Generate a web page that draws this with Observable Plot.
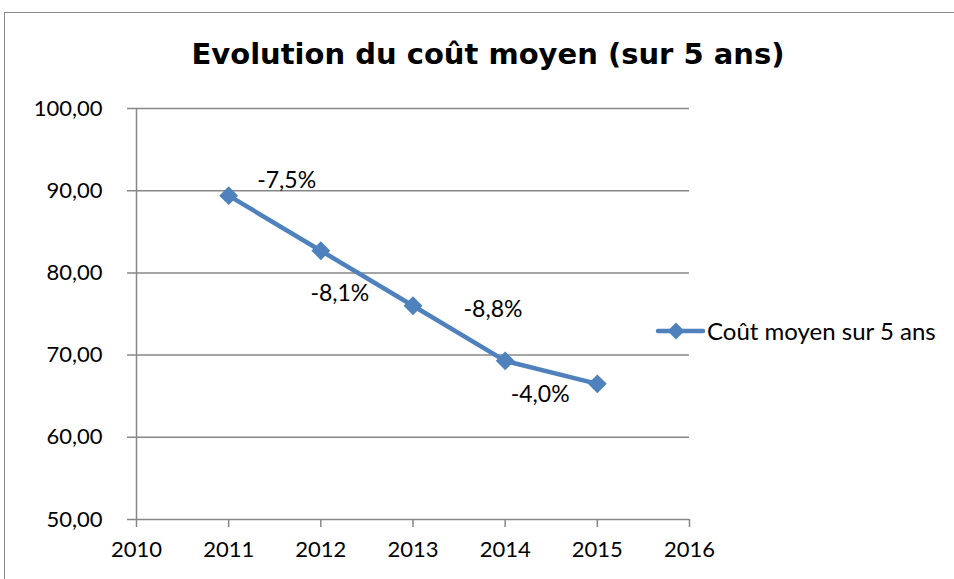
<!DOCTYPE html>
<html><head><meta charset="utf-8">
<script src="https://cdn.jsdelivr.net/npm/d3@7"></script>
<script src="https://cdn.jsdelivr.net/npm/@observablehq/plot@0.6"></script>
<style>
body{margin:0;background:#fff;}
#wrap{position:relative;width:954px;height:579px;overflow:hidden;background:#fff;}
#frame{position:absolute;left:4px;top:12px;width:1000px;height:600px;border-left:1.5px solid #8a8a8a;border-top:1.5px solid #8a8a8a;}
#title{position:absolute;left:0;width:976px;top:37px;text-align:center;font-family:"DejaVu Sans";font-weight:bold;font-size:29px;color:#000;}
#chart{position:absolute;left:0;top:0;}
#legend{position:absolute;left:655px;top:316px;display:flex;align-items:center;font-family:Lato;font-size:24px;color:#000;}
</style></head>
<body>
<div id="wrap">
<div id="frame"></div>
<div id="title">Evolution du coût moyen (sur 5 ans)</div>
<div id="chart"></div>
<div id="legend"><svg width="50" height="24"><line x1="3" y1="12" x2="48" y2="12" stroke="#4F81BD" stroke-width="4.5" stroke-linecap="round"/><path d="M21 3.5 L29.5 12 L21 20.5 L12.5 12 Z" fill="#4F81BD"/></svg><span style="margin-left:2px">Coût moyen sur 5 ans</span></div>
</div>
<script>
const years = [2011, 2012, 2013, 2014, 2015];
const costs = [89.4, 82.7, 76.0, 69.3, 66.5];
const changeLabels = ["-7,5%", "-8,1%", "-8,8%", "-4,0%"];
const xTicks = [2010, 2011, 2012, 2013, 2014, 2015, 2016];
const yTicks = [50, 60, 70, 80, 90, 100];

const data = years.map((y, i) => ({year: y, cost: costs[i]}));
const labelOffsets = [[58, -15], [19, 43], [80, 4], [35, 34]];
const labels = changeLabels.map((t, i) => ({year: years[i], cost: costs[i], text: t, dx: labelOffsets[i][0], dy: labelOffsets[i][1]}));

const fmt = d => d3.format(".2f")(d).replace(".", ",");
const color = "#4F81BD";
const grid = "#878787";

const plot = Plot.plot({
  width: 954, height: 579,
  marginLeft: 136, marginRight: 265, marginTop: 108, marginBottom: 60,
  style: {fontFamily: "Lato", fontSize: "22px", color: "#000", background: "transparent"},
  x: {domain: [2010, 2016], label: null},
  y: {domain: [50, 100], label: null},
  marks: [
    Plot.ruleY(yTicks.filter(d => d > 50), {x1: 2010, x2: 2016, stroke: grid, strokeWidth: 1.5, insetLeft: -9}),
    Plot.ruleX([2010], {y1: 50, y2: 100, stroke: grid, strokeWidth: 1.5}),
    Plot.ruleY([50], {x1: 2010, x2: 2016, stroke: grid, strokeWidth: 1.5, insetLeft: -9}),
    Plot.axisY({ticks: yTicks, tickFormat: fmt, tickSize: 0, tickPadding: 34, fontSize: 22, fill: "#000", label: null}),
    Plot.axisX({ticks: xTicks, tickFormat: d => String(d), tickSize: 8, tickPadding: 14, stroke: grid, strokeWidth: 1.5, fontSize: 22, fill: "#000", strokeOpacity: 1, label: null}),
    Plot.line(data, {x: "year", y: "cost", stroke: color, strokeWidth: 4.5}),
    Plot.dot(data, {x: "year", y: "cost", symbol: "diamond2", r: 8.5, fill: color, stroke: null}),
    ...labels.map(l => Plot.text([l], {x: "year", y: "cost", text: "text", dx: l.dx, dy: l.dy, fontSize: 23, fill: "#000"}))
  ]
});
document.getElementById("chart").appendChild(plot);
</script>
</body></html>
